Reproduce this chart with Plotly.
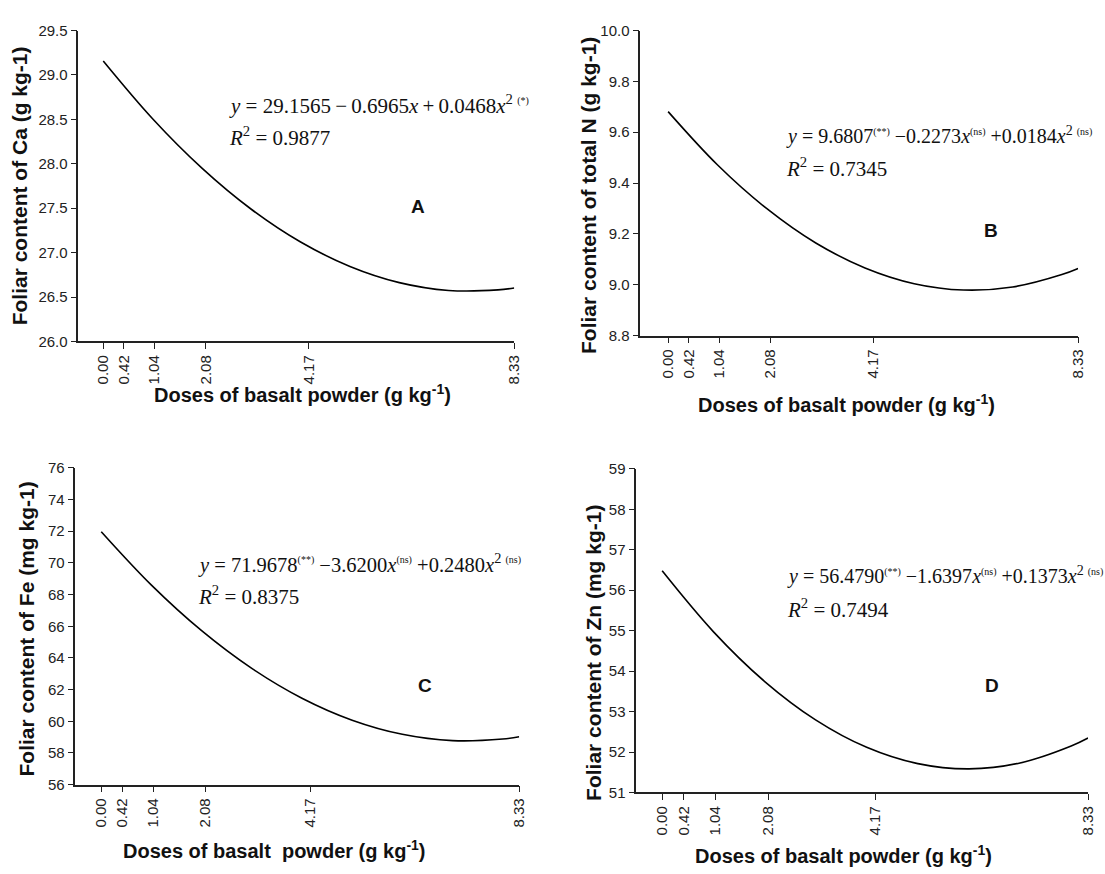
import plotly.graph_objects as go

W, H = 1105, 874

# ---- data ----
dose_ticks = [0.00, 0.42, 1.04, 2.08, 4.17, 8.33]
dose_labels = ["0.00", "0.42", "1.04", "2.08", "4.17", "8.33"]
dose_pts = [0, 1, 2, 3, 4, 5, 6, 7, 8, 8.33]
ca_vals = [29.157, 28.507, 27.951, 27.488, 27.119, 26.844, 26.662, 26.574, 26.580, 26.602]
n_vals = [9.681, 9.472, 9.300, 9.164, 9.066, 9.004, 8.979, 8.991, 9.040, 9.064]
fe_vals = [71.968, 68.596, 65.720, 63.340, 61.456, 60.068, 59.176, 58.780, 58.880, 59.022]
zn_vals = [56.479, 54.977, 53.749, 52.796, 52.117, 51.713, 51.584, 51.729, 52.149, 52.347]

ca_ticks = [26.0, 26.5, 27.0, 27.5, 28.0, 28.5, 29.0, 29.5]
n_ticks = [8.8, 9.0, 9.2, 9.4, 9.6, 9.8, 10.0]
fe_ticks = [56, 58, 60, 62, 64, 66, 68, 70, 72, 74, 76]
zn_ticks = [51, 52, 53, 54, 55, 56, 57, 58, 59]


def sig(s):
    return '<sup><span style="font-size:10px">' + s + '</span></sup>'


X = "<i>x</i>"
X2 = "<i>x</i><sup>2</sup>"
TH = "\u2009"  # thin space

panels = [
    dict(y=ca_vals, yt=ca_ticks, fmt="{:.1f}", yr=[26.0, 29.5],
         box=(79, 104, 518, 22, 339),
         ylab="Foliar content of Ca (g kg-1)", ylab_xy=(20, 180),
         xlab="Doses of basalt powder (g kg<sup>-1</sup>)", xlab_xy=(305, 392),
         letter="A", letter_xy=(421, 201),
         eq="<i>y</i> = 29.1565" + TH + "−" + TH + "0.6965" + X + TH + "+" + TH + "0.0468" + X2 + TH + sig("(*)"),
         eq_size=21, r2="<i>R</i><sup>2</sup> = 0.9877", eq_xy=(229, 97)),
    dict(y=n_vals, yt=n_ticks, fmt="{:.1f}", yr=[8.8, 10.0],
         box=(645, 673, 1086, 22, 333),
         ylab="Foliar content of total N (g kg-1)", ylab_xy=(593, 190),
         xlab="Doses of basalt powder (g kg<sup>-1</sup>)", xlab_xy=(853, 402),
         letter="B", letter_xy=(998, 226),
         eq="<i>y</i> = 9.6807" + sig("(**)") + " −0.2273" + X + sig("(ns)") +
            " +0.0184" + X2 + TH + sig("(ns)"),
         eq_size=20, r2="<i>R</i><sup>2</sup> = 0.7345", eq_xy=(790, 129)),
    dict(y=fe_vals, yt=fe_ticks, fmt="{:d}", yr=[56, 76],
         box=(76, 102, 523, 468, 791),
         ylab="Foliar content of Fe (mg kg-1)", ylab_xy=(27, 632),
         xlab="Doses of basalt  powder (g kg<sup>-1</sup>)", xlab_xy=(277, 857),
         letter="C", letter_xy=(428, 690),
         eq="<i>y</i> = 71.9678" + sig("(**)") + " −3.6200" + X + sig("(ns)") +
            " +0.2480" + X2 + TH + sig("(ns)"),
         eq_size=20.5, r2="<i>R</i><sup>2</sup> = 0.8375", eq_xy=(197, 565)),
    dict(y=zn_vals, yt=zn_ticks, fmt="{:d}", yr=[51, 59],
         box=(641, 667, 1096, 469, 799),
         ylab="Foliar content of Zn (mg kg-1)", ylab_xy=(598, 657),
         xlab="Doses of basalt powder (g kg<sup>-1</sup>)", xlab_xy=(850, 862),
         letter="D", letter_xy=(999, 690),
         eq="<i>y</i> = 56.4790" + sig("(**)") + " −1.6397" + X + sig("(ns)") +
            " +0.1373" + X2 + TH + sig("(ns)"),
         eq_size=20, r2="<i>R</i><sup>2</sup> = 0.7494", eq_xy=(791, 578)),
]

fig = go.Figure()
annots = []
sans = "Liberation Sans, Arial, sans-serif"
serif = "Liberation Serif, Times New Roman, serif"

for i, p in enumerate(panels, start=1):
    left, x0px, right, top, bottom = p["box"]
    xmin = -(x0px - left) / (right - x0px) * 8.33
    xa = "x" if i == 1 else f"x{i}"
    ya = "y" if i == 1 else f"y{i}"
    fig.add_trace(go.Scatter(x=dose_pts, y=p["y"], mode="lines",
                             line=dict(color="black", width=1.6, shape="spline"),
                             xaxis=xa, yaxis=ya, showlegend=False, hoverinfo="skip"))
    xkey = "xaxis" if i == 1 else f"xaxis{i}"
    ykey = "yaxis" if i == 1 else f"yaxis{i}"
    fig.layout[xkey] = dict(domain=[left / W, right / W], range=[xmin, 8.33],
                            anchor=ya, tickmode="array", tickvals=dose_ticks,
                            ticktext=dose_labels, tickangle=-90, ticks="outside",
                            ticklen=6, tickcolor="#222", tickwidth=1.3, showline=True,
                            linecolor="#222", linewidth=1.6, showgrid=False,
                            zeroline=False, fixedrange=True,
                            tickfont=dict(family=sans, size=15, color="#222"))
    fig.layout[ykey] = dict(domain=[1 - bottom / H, 1 - top / H], range=p["yr"],
                            anchor=xa, tickmode="array", tickvals=p["yt"],
                            ticktext=[p["fmt"].format(v) for v in p["yt"]],
                            ticks="outside", ticklen=6, tickcolor="#222", tickwidth=1.3,
                            showline=True, linecolor="#222", linewidth=1.6,
                            showgrid=False, zeroline=False, fixedrange=True,
                            tickfont=dict(family=sans, size=15, color="#222"))
    # axis titles
    annots.append(dict(x=p["ylab_xy"][0] / W, y=1 - p["ylab_xy"][1] / H,
                       xref="paper", yref="paper", text="<b>" + p["ylab"] + "</b>",
                       textangle=-90, showarrow=False, xanchor="center", yanchor="middle",
                       font=dict(family=sans, size=21, color="#111")))
    annots.append(dict(x=p["xlab_xy"][0] / W, y=1 - p["xlab_xy"][1] / H,
                       xref="paper", yref="paper", text="<b>" + p["xlab"] + "</b>",
                       showarrow=False, xanchor="center", yanchor="middle",
                       font=dict(family=sans, size=20, color="#111")))
    annots.append(dict(x=p["letter_xy"][0] / W, y=1 - p["letter_xy"][1] / H,
                       xref="paper", yref="paper", text="<b>" + p["letter"] + "</b>",
                       showarrow=False, xanchor="center", yanchor="middle",
                       font=dict(family=sans, size=19, color="#111")))
    ex, ey = p["eq_xy"]
    annots.append(dict(x=ex / W, y=1 - ey / H, xref="paper", yref="paper",
                       text=p["eq"], showarrow=False, xanchor="left", yanchor="middle",
                       font=dict(family=serif, size=p["eq_size"], color="#111")))
    annots.append(dict(x=ex / W, y=1 - (ey + 33) / H, xref="paper", yref="paper",
                       text=p["r2"], showarrow=False, xanchor="left", yanchor="middle",
                       font=dict(family=serif, size=21, color="#111")))

fig.update_layout(width=W, height=H, margin=dict(l=0, r=0, t=0, b=0),
                  paper_bgcolor="white", plot_bgcolor="white",
                  annotations=annots)

fig.write_html("out.html", config={"displayModeBar": False},
               post_script="document.body.style.margin='0';document.body.style.overflow='hidden';")
